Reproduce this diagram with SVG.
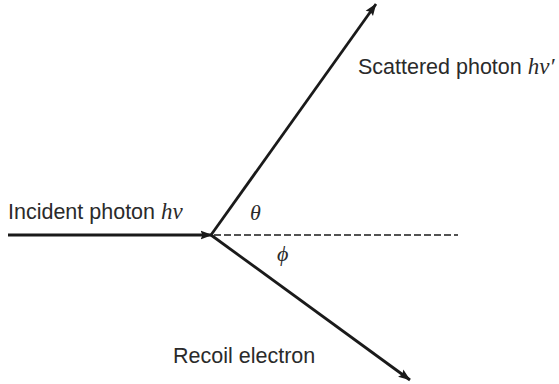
<svg xmlns="http://www.w3.org/2000/svg" width="559" height="384" viewBox="0 0 559 384">
<defs>
<marker id="ah" markerUnits="userSpaceOnUse" markerWidth="12" markerHeight="10" refX="11.5" refY="5" orient="auto">
<path d="M0,0.5 L12,5 L0,9.5 L2,5 Z" fill="#1a1a1a"/>
</marker>
<style>
.ray{stroke:#1a1a1a;fill:none;stroke-width:2.8;}
.dash{stroke:#1a1a1a;fill:none;stroke-width:1.3;stroke-dasharray:7 3;}
.lbl{font-family:"Liberation Sans",Arial,sans-serif;font-size:21.5px;fill:#2a2a2a;}
.sym{font-family:"Liberation Serif","Times New Roman",serif;font-style:italic;font-size:23px;}
.greek{font-family:"Liberation Serif","DejaVu Serif","Times New Roman",serif;font-style:italic;font-size:22px;fill:#2a2a2a;}
</style>
</defs>
<rect width="559" height="384" fill="#ffffff"/>
<g id="connectors">
<line class="ray" x1="8" y1="235" x2="212" y2="235" marker-end="url(#ah)"/>
<line class="ray" x1="211" y1="235" x2="376" y2="4" marker-end="url(#ah)"/>
<line class="ray" x1="211" y1="235" x2="410" y2="380" stroke-width="2.3" marker-end="url(#ah)"/>
<line class="dash" x1="214" y1="235" x2="458" y2="235"/>
</g>
<g id="incident">
<text class="lbl" x="8" y="219">Incident photon <tspan class="sym">hν</tspan></text>
</g>
<g id="scattered">
<text class="lbl" x="358" y="74">Scattered photon <tspan class="sym">hν′</tspan></text>
</g>
<g id="recoil">
<text class="lbl" x="173" y="363">Recoil electron</text>
</g>
<g id="angles">
<text class="greek" x="250" y="220">θ</text>
<text class="greek" x="277" y="261">ϕ</text>
</g>
</svg>
